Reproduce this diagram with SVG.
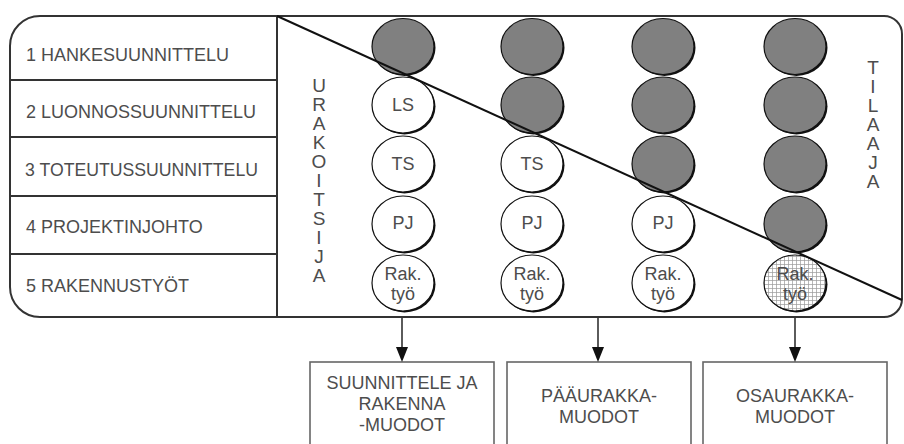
<svg xmlns="http://www.w3.org/2000/svg" width="904" height="444" viewBox="0 0 904 444">
<style>
.lbl{font-family:"Liberation Sans",Arial,sans-serif;font-size:18px;fill:#4d4d4d}
.mid{text-anchor:middle}
.vt{font-family:"Liberation Sans",Arial,sans-serif;font-size:19px;fill:#4d4d4d;text-anchor:middle}
.frame{fill:none;stroke:#333;stroke-width:2}
.sep{stroke:#333;stroke-width:2}
.sh{fill:#111}
.g{fill:#808080;stroke:#111;stroke-width:1.2}
.w{fill:#fff;stroke:#111;stroke-width:1.2}
.h{fill:url(#grid);stroke:#111;stroke-width:1.2}
.box{fill:#fff;stroke:#666;stroke-width:1.6}
.con{stroke:#333;stroke-width:1.6;fill:none}
</style>
<defs>
<pattern id="grid" width="4" height="4" patternUnits="userSpaceOnUse">
<rect width="4" height="4" fill="#fff"/>
<path d="M0 0.5H4M0.5 0V4" stroke="#999" stroke-width="0.7"/>
</pattern>
</defs>
<rect width="904" height="444" fill="#fff"/>

<g id="frame">
<path class="frame" d="M40 16 H884 A18 18 0 0 1 902 34 V299 A18 18 0 0 1 884 317 H40 A30 30 0 0 1 10 287 V46 A30 30 0 0 1 40 16 Z"/>
<line class="sep" x1="277" y1="16" x2="277" y2="317"/>
</g>

<g id="row1"><text class="lbl" x="26" y="61">1 HANKESUUNNITTELU</text><line class="sep" x1="10" y1="80" x2="277" y2="80"/></g>
<g id="row2"><text class="lbl" x="26" y="118">2 LUONNOSSUUNNITTELU</text><line class="sep" x1="10" y1="137" x2="277" y2="137"/></g>
<g id="row3"><text class="lbl" x="25" y="176" textLength="233" lengthAdjust="spacingAndGlyphs">3 TOTEUTUSSUUNNITTELU</text><line class="sep" x1="10" y1="196" x2="277" y2="196"/></g>
<g id="row4"><text class="lbl" x="26" y="233">4 PROJEKTINJOHTO</text><line class="sep" x1="10" y1="254" x2="277" y2="254"/></g>
<g id="row5"><text class="lbl" x="26" y="292">5 RAKENNUSTYÖT</text></g>

<g id="urakoitsija">
<text class="vt" x="319" y="92"><tspan x="319" y="92">U</tspan><tspan x="319" dy="19">R</tspan><tspan x="319" dy="19">A</tspan><tspan x="319" dy="19">K</tspan><tspan x="319" dy="19">O</tspan><tspan x="319" dy="19">I</tspan><tspan x="319" dy="19">T</tspan><tspan x="319" dy="19">S</tspan><tspan x="319" dy="19">I</tspan><tspan x="319" dy="19">J</tspan><tspan x="319" dy="19">A</tspan></text>
</g>

<g id="tilaaja">
<text class="vt" x="873" y="74"><tspan x="873" y="74">T</tspan><tspan x="873" dy="19">I</tspan><tspan x="873" dy="19">L</tspan><tspan x="873" dy="19">A</tspan><tspan x="873" dy="19">A</tspan><tspan x="873" dy="19">J</tspan><tspan x="873" dy="19">A</tspan></text>
</g>

<!-- column 1 -->
<g id="c1r1"><ellipse class="sh" cx="404.5" cy="48" rx="31" ry="28"/><ellipse class="g" cx="403" cy="46.5" rx="31" ry="28"/></g>
<g id="c1r2"><ellipse class="sh" cx="404.5" cy="106.5" rx="31" ry="28"/><ellipse class="w" cx="403" cy="105" rx="31" ry="28"/><text class="lbl mid" x="403" y="111">LS</text></g>
<g id="c1r3"><ellipse class="sh" cx="404.5" cy="165.5" rx="31" ry="28"/><ellipse class="w" cx="403" cy="164" rx="31" ry="28"/><text class="lbl mid" x="403" y="170">TS</text></g>
<g id="c1r4"><ellipse class="sh" cx="404.5" cy="225.5" rx="31" ry="28"/><ellipse class="w" cx="403" cy="224" rx="31" ry="28"/><text class="lbl mid" x="403" y="229">PJ</text></g>
<g id="c1r5"><ellipse class="sh" cx="404.5" cy="284.5" rx="31" ry="28"/><ellipse class="w" cx="403" cy="283" rx="31" ry="28"/><text class="lbl mid" x="403" y="280">Rak.</text><text class="lbl mid" x="403" y="300">työ</text></g>

<!-- column 2 -->
<g id="c2r1"><ellipse class="sh" cx="533.5" cy="48" rx="31" ry="28"/><ellipse class="g" cx="532" cy="46.5" rx="31" ry="28"/></g>
<g id="c2r2"><ellipse class="sh" cx="533.5" cy="106.5" rx="31" ry="28"/><ellipse class="g" cx="532" cy="105" rx="31" ry="28"/></g>
<g id="c2r3"><ellipse class="sh" cx="533.5" cy="165.5" rx="31" ry="28"/><ellipse class="w" cx="532" cy="164" rx="31" ry="28"/><text class="lbl mid" x="532" y="170">TS</text></g>
<g id="c2r4"><ellipse class="sh" cx="533.5" cy="225.5" rx="31" ry="28"/><ellipse class="w" cx="532" cy="224" rx="31" ry="28"/><text class="lbl mid" x="532" y="229">PJ</text></g>
<g id="c2r5"><ellipse class="sh" cx="533.5" cy="284.5" rx="31" ry="28"/><ellipse class="w" cx="532" cy="283" rx="31" ry="28"/><text class="lbl mid" x="532" y="280">Rak.</text><text class="lbl mid" x="532" y="300">työ</text></g>

<!-- column 3 -->
<g id="c3r1"><ellipse class="sh" cx="664.5" cy="48" rx="31" ry="28"/><ellipse class="g" cx="663" cy="46.5" rx="31" ry="28"/></g>
<g id="c3r2"><ellipse class="sh" cx="664.5" cy="106.5" rx="31" ry="28"/><ellipse class="g" cx="663" cy="105" rx="31" ry="28"/></g>
<g id="c3r3"><ellipse class="sh" cx="664.5" cy="165.5" rx="31" ry="28"/><ellipse class="g" cx="663" cy="164" rx="31" ry="28"/></g>
<g id="c3r4"><ellipse class="sh" cx="664.5" cy="225.5" rx="31" ry="28"/><ellipse class="w" cx="663" cy="224" rx="31" ry="28"/><text class="lbl mid" x="663" y="229">PJ</text></g>
<g id="c3r5"><ellipse class="sh" cx="664.5" cy="284.5" rx="31" ry="28"/><ellipse class="w" cx="663" cy="283" rx="31" ry="28"/><text class="lbl mid" x="663" y="280">Rak.</text><text class="lbl mid" x="663" y="300">työ</text></g>

<!-- column 4 -->
<g id="c4r1"><ellipse class="sh" cx="796.5" cy="48" rx="31" ry="28"/><ellipse class="g" cx="795" cy="46.5" rx="31" ry="28"/></g>
<g id="c4r2"><ellipse class="sh" cx="796.5" cy="106.5" rx="31" ry="28"/><ellipse class="g" cx="795" cy="105" rx="31" ry="28"/></g>
<g id="c4r3"><ellipse class="sh" cx="796.5" cy="165.5" rx="31" ry="28"/><ellipse class="g" cx="795" cy="164" rx="31" ry="28"/></g>
<g id="c4r4"><ellipse class="sh" cx="796.5" cy="225.5" rx="31" ry="28"/><ellipse class="g" cx="795" cy="224" rx="31" ry="28"/></g>
<g id="c4r5"><ellipse class="sh" cx="796.5" cy="284.5" rx="31" ry="28"/><ellipse class="h" cx="795" cy="283" rx="31" ry="28"/><text class="lbl mid" x="795" y="280">Rak.</text><text class="lbl mid" x="795" y="300">työ</text></g>

<g id="diagonal"><line x1="277" y1="16" x2="902" y2="300" stroke="#111" stroke-width="2"/></g>

<g id="box1"><rect class="box" x="310" y="362" width="184" height="100"/>
<text class="lbl mid" x="402" y="389">SUUNNITTELE JA</text>
<text class="lbl mid" x="402" y="410">RAKENNA</text>
<text class="lbl mid" x="402" y="431">-MUODOT</text></g>
<g id="box2"><rect class="box" x="507" y="362" width="184" height="100"/>
<text class="lbl mid" x="599" y="402">PÄÄURAKKA-</text>
<text class="lbl mid" x="599" y="423">MUODOT</text></g>
<g id="box3"><rect class="box" x="703" y="362" width="184" height="100"/>
<text class="lbl mid" x="795" y="402">OSAURAKKA-</text>
<text class="lbl mid" x="795" y="423">MUODOT</text></g>

<g id="connectors">
<line class="con" x1="402" y1="318" x2="402" y2="350"/><path d="M396 347 L408 347 L402 362 Z" fill="#111"/>
<line class="con" x1="598" y1="318" x2="598" y2="350"/><path d="M592 347 L604 347 L598 362 Z" fill="#111"/>
<line class="con" x1="795" y1="318" x2="795" y2="350"/><path d="M789 347 L801 347 L795 362 Z" fill="#111"/>
</g>
</svg>
